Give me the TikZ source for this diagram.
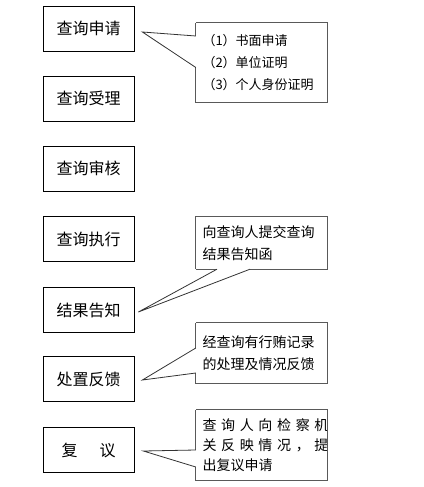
\documentclass[tikz,border=0pt]{standalone}
\usepackage{fontspec}
\newfontfamily\cjk{Noto Sans CJK SC}
\tikzset{
  stage/.style={draw, line width=0.8pt, minimum width=91pt, minimum height=45pt,
    inner sep=0pt, font=\cjk\fontsize{16}{18}\selectfont},
  note/.style={minimum width=131pt, inner sep=0pt, align=left, text width=118pt,
    font=\cjk\fontsize{14}{22}\selectfont},
  noteline/.style={draw=black!65, line width=1.3pt, line join=miter},
  pointer/.style={draw=black!80, line width=0.8pt}
}
\begin{document}
\begin{tikzpicture}[x=1pt, y=-1pt]
  \useasboundingbox (0,0) rectangle (423,487);

  % -- stages (left column) --
  \node[stage] (apply)   at (88.5, 28.5)  {查询申请};
  \node[stage] (accept)  at (88.5, 98.5)  {查询受理};
  \node[stage] (review)  at (88.5, 168.5) {查询审核};
  \node[stage] (run)     at (88.5, 239)   {查询执行};
  \node[stage] (notify)  at (88.5, 310)   {结果告知};
  \node[stage] (handle)  at (88.5, 379)   {处置反馈};
  \node[stage] (recheck) at (88.5, 450)   {复\hspace{22pt}议};

  % -- callout texts --
  \node[note, minimum height=79pt, font=\cjk\fontsize{13}{22}\selectfont] (docs) at (261.5, 62.5)
    {（1）书面申请\\（2）单位证明\\（3）个人身份证明};
  \node[note, minimum height=52pt] (letter) at (261.5, 243)
    {向查询人提交查询\\结果告知函};
  \node[note, minimum height=60pt] (bribe) at (261.5, 353)
    {经查询有行贿记录\\的处理及情况反馈};
  \node[note, minimum height=70pt, font=\cjk\fontsize{14}{20}\selectfont] (appeal) at (261.5, 445)
    {\makebox[112pt][s]{查 询 人 向 检 察 机}\\\makebox[112pt][s]{关 反 映 情 况 ， 提}\\出复议申请};

  % -- pointer tips --
  \coordinate (t1) at ([xshift=8pt, yshift=-3.5pt]apply.east);
  \coordinate (t2) at ([xshift=4pt, yshift=-2pt]notify.east);
  \coordinate (t3) at ([xshift=8pt, yshift=-1pt]handle.east);
  \coordinate (t4) at ([xshift=9pt, yshift=-1pt]recheck.east);

  % -- callout outlines --
  \draw[noteline] (docs.north west) -- (docs.north east) -- (docs.south east)
    -- (docs.south west) -- ([yshift=-5pt]docs.west);
  \draw[noteline] ([yshift=26.5pt]docs.west) -- (docs.north west);
  \draw[pointer] ([yshift=26.5pt]docs.west) -- (t1) -- ([yshift=-5pt]docs.west);

  \draw[noteline] (letter.south west) -- (letter.north west) -- (letter.north east)
    -- (letter.south east) -- ([xshift=-11.5pt]letter.south);
  \draw[noteline] ([xshift=-44.5pt]letter.south) -- (letter.south west);
  \draw[pointer] ([xshift=-44.5pt]letter.south) -- (t2) -- ([xshift=-11.5pt]letter.south);

  \draw[noteline] (bribe.north west) -- (bribe.north east) -- (bribe.south east)
    -- (bribe.south west) -- ([yshift=-20pt]bribe.west);
  \draw[noteline] ([yshift=5pt]bribe.west) -- (bribe.north west);
  \draw[pointer] ([yshift=5pt]bribe.west) -- (t3) -- ([yshift=-20pt]bribe.west);

  \draw[noteline] (appeal.north west) -- (appeal.north east) -- (appeal.south east)
    -- (appeal.south west) -- ([yshift=-22pt]appeal.west);
  \draw[noteline] ([yshift=-5pt]appeal.west) -- (appeal.north west);
  \draw[pointer] ([yshift=-5pt]appeal.west) -- (t4) -- ([yshift=-22pt]appeal.west);

\end{tikzpicture}
\end{document}
